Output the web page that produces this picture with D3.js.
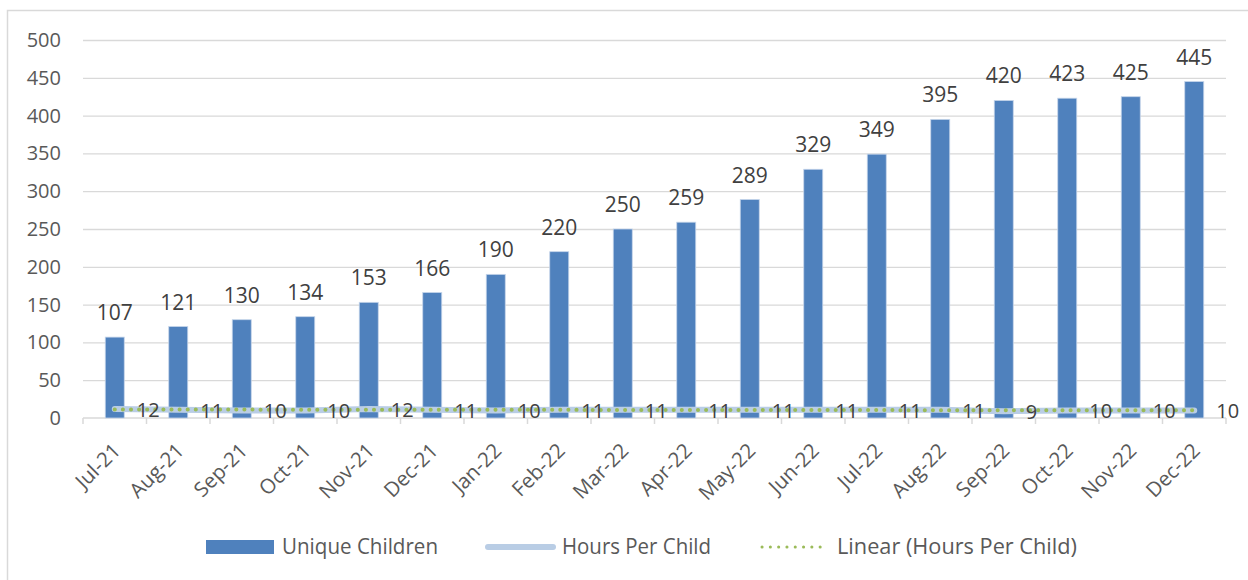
<!DOCTYPE html>
<html>
<head>
<meta charset="utf-8">
<script src="https://cdn.jsdelivr.net/npm/d3@7"></script>
<style>
  body { margin: 0; background: #fff; }
  text { font-family: "Open Sans", "Noto Sans", sans-serif; }
</style>
</head>
<body>
<div id="chart"></div>
<script>
// Data
const months = ['Jul-21', 'Aug-21', 'Sep-21', 'Oct-21', 'Nov-21', 'Dec-21', 'Jan-22', 'Feb-22', 'Mar-22',
  'Apr-22', 'May-22', 'Jun-22', 'Jul-22', 'Aug-22', 'Sep-22', 'Oct-22', 'Nov-22', 'Dec-22'];
const uniqueChildren = [107, 121, 130, 134, 153, 166, 190, 220, 250, 259, 289, 329, 349, 395, 420, 423, 425, 445];
const hoursPerChild = [12, 11, 10, 10, 12, 11, 10, 11, 11, 11, 11, 11, 11, 11, 9, 10, 10, 10];
const yTicks = [0, 50, 100, 150, 200, 250, 300, 350, 400, 450, 500];
const legendItems = ['Unique Children', 'Hours Per Child', 'Linear (Hours Per Child)'];

const width = 1248;
const height = 580;
const plot = {left: 83, right: 1226, top: 40, bottom: 418};

const svg = d3.select('#chart')
  .append('svg')
  .attr('width', width)
  .attr('height', height);

// Outer chart border
svg.append('rect')
  .attr('x', 7.5)
  .attr('y', 10.5)
  .attr('width', 1260)
  .attr('height', 600)
  .attr('fill', '#fff')
  .attr('stroke', '#d9d9d9')
  .attr('stroke-width', 1.5);

const xScale = d3.scaleBand()
  .domain(months)
  .range([plot.left, plot.right])
  .padding(0);

const yScale = d3.scaleLinear()
  .domain([0, 500])
  .range([plot.bottom, plot.top]);

const cx = (m) => xScale(m) + xScale.bandwidth() / 2;

// Gridlines + y labels
const yAxis = d3.axisLeft(yScale)
  .tickValues(yTicks)
  .tickSizeInner(-(plot.right - plot.left))
  .tickSizeOuter(0)
  .tickPadding(22);

const gy = svg.append('g')
  .attr('transform', `translate(${plot.left},0)`)
  .call(yAxis);
gy.select('.domain').remove();
gy.selectAll('.tick line')
  .attr('stroke', '#d9d9d9')
  .attr('stroke-width', 1.3)
  .filter((d) => d === 0).remove();
gy.selectAll('.tick text')
  .attr('fill', '#595959')
  .style('font-size', '20px');

// X axis with category boundary ticks
const xAxis = d3.axisBottom(xScale)
  .tickSize(0)
  .tickPadding(0);
const gx = svg.append('g')
  .attr('transform', `translate(0,${plot.bottom})`)
  .call(xAxis);
gx.select('.domain')
  .attr('d', `M${plot.left},0H${plot.right}`)
  .attr('stroke', '#d9d9d9')
  .attr('stroke-width', 1.5);
gx.selectAll('.tick text')
  .attr('fill', '#595959')
  .attr('text-anchor', 'end')
  .attr('dy', 0)
  .attr('y', 0)
  .attr('transform', 'translate(7,34) rotate(-45)')
  .style('font-size', '20.5px');

const boundaries = months.map((m) => xScale(m)).concat([plot.right]);
svg.append('g')
  .selectAll('line')
  .data(boundaries)
  .join('line')
  .attr('x1', (d) => d)
  .attr('x2', (d) => d)
  .attr('y1', plot.bottom)
  .attr('y2', plot.bottom + 6)
  .attr('stroke', '#d9d9d9')
  .attr('stroke-width', 1.5);

// Bars
const barW = 19;
svg.append('g')
  .selectAll('rect')
  .data(uniqueChildren)
  .join('rect')
  .attr('x', (d, i) => cx(months[i]) - barW / 2)
  .attr('y', (d) => yScale(d))
  .attr('width', barW)
  .attr('height', (d) => plot.bottom - yScale(d))
  .attr('fill', '#4f81bd')
  .attr('stroke', '#c5d5ea')
  .attr('stroke-width', 0.8);

// Bar value labels
svg.append('g')
  .selectAll('text')
  .data(uniqueChildren)
  .join('text')
  .attr('x', (d, i) => cx(months[i]))
  .attr('y', (d) => yScale(d) - 17)
  .attr('text-anchor', 'middle')
  .attr('fill', '#404040')
  .style('font-size', '21px')
  .text((d) => d);

// Hours per child line
const hourPts = hoursPerChild.map((v, i) => ({x: cx(months[i]), y: yScale(v), v}));
const line = d3.line().x((d) => d.x).y((d) => d.y);
svg.append('path')
  .attr('d', line(hourPts))
  .attr('fill', 'none')
  .attr('stroke', '#b9cde5')
  .attr('stroke-width', 6)
  .attr('stroke-linecap', 'round')
  .attr('stroke-linejoin', 'round');

// Linear trend of hours per child (least squares)
const n = hoursPerChild.length;
const meanX = d3.mean(d3.range(n));
const meanY = d3.mean(hoursPerChild);
const slope = d3.sum(hoursPerChild, (v, i) => (i - meanX) * (v - meanY)) /
  d3.sum(d3.range(n), (i) => (i - meanX) * (i - meanX));
const intercept = meanY - slope * meanX;
const trendPts = [0, n - 1].map((i) => ({x: cx(months[i]), y: yScale(intercept + slope * i)}));
svg.append('path')
  .attr('d', line(trendPts))
  .attr('fill', 'none')
  .attr('stroke', '#9bbb59')
  .attr('stroke-width', 4)
  .attr('stroke-linecap', 'round')
  .attr('stroke-dasharray', '0.1 8');

// Hours labels (right of point)
svg.append('g')
  .selectAll('text')
  .data(hourPts)
  .join('text')
  .attr('x', (d) => d.x + 22)
  .attr('y', (d) => d.y + 8)
  .attr('text-anchor', 'start')
  .attr('fill', '#404040')
  .style('font-size', '20px')
  .text((d) => d.v);

// Legend
const legendY = 547;
const legend = svg.append('g');
legend.append('rect')
  .attr('x', 206).attr('y', legendY - 7)
  .attr('width', 68).attr('height', 14)
  .attr('fill', '#4f81bd');
legend.append('line')
  .attr('x1', 488).attr('x2', 553)
  .attr('y1', legendY).attr('y2', legendY)
  .attr('stroke', '#b9cde5').attr('stroke-width', 6)
  .attr('stroke-linecap', 'round');
legend.append('line')
  .attr('x1', 762).attr('x2', 828)
  .attr('y1', legendY).attr('y2', legendY)
  .attr('stroke', '#9bbb59').attr('stroke-width', 3)
  .attr('stroke-linecap', 'round')
  .attr('stroke-dasharray', '0.1 8.2');

const legendText = [
  {x: 282, len: 156},
  {x: 562, len: 149},
  {x: 837, len: 240},
];
legend.selectAll('text')
  .data(legendItems)
  .join('text')
  .attr('x', (d, i) => legendText[i].x)
  .attr('y', legendY + 7)
  .attr('textLength', (d, i) => legendText[i].len)
  .attr('lengthAdjust', 'spacingAndGlyphs')
  .attr('fill', '#595959')
  .style('font-size', '21px')
  .text((d) => d);
</script>
</body>
</html>
